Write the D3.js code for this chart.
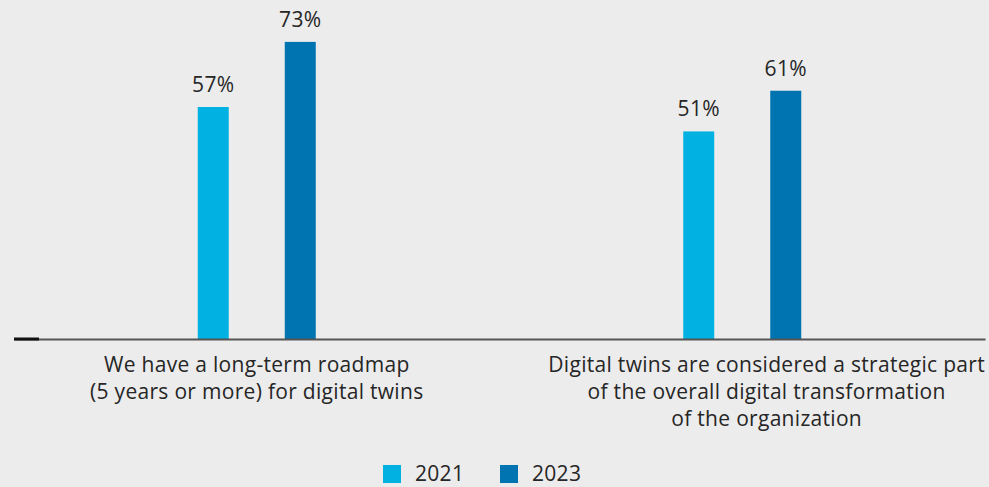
<!DOCTYPE html>
<html><head><meta charset="utf-8">
<script src="https://cdn.jsdelivr.net/npm/d3@7/dist/d3.min.js"></script>
<style>
html,body{margin:0;padding:0;background:#ececec;}
svg{display:block;font-family:"Open Sans","Noto Sans",sans-serif;}
text{letter-spacing:0.3px;}
</style></head>
<body>
<svg id="chart" width="989" height="487"></svg>
<script>
const categories = ["roadmap", "strategic"];
const categoryLabels = [
  ["We have a long-term roadmap", "(5 years or more) for digital twins"],
  ["Digital twins are considered a strategic part", "of the overall digital transformation", "of the organization"]
];
const seriesNames = ["2021", "2023"];
const values2021 = [57, 51];
const values2023 = [73, 61];
const colors = ["#00b1e1", "#0073b1"];

const svg = d3.select("#chart");
const x0 = 14, x1 = 985, yBase = 339;
const fs = 21, txtColor = "#262626";

const x = d3.scaleBand().domain(categories).range([x0, x1]).paddingInner(0).paddingOuter(0);
const xs = d3.scaleBand().domain(seriesNames).range([0, x.bandwidth()]).paddingInner(0.644).paddingOuter(2.112);
const y = d3.scaleLinear().domain([0, 80]).range([yBase, yBase - 80 * 4.07]);

const data = categories.map((c, i) => ({c, i, vals: [values2021[i], values2023[i]]}));

const g = svg.selectAll("g.grp").data(data).join("g").attr("class", "grp")
  .attr("transform", d => `translate(${x(d.c)},0)`);

g.selectAll("rect").data(d => d.vals.map((v, k) => ({v, s: seriesNames[k], k})))
  .join("rect")
  .attr("x", d => xs(d.s)).attr("width", xs.bandwidth())
  .attr("y", d => y(d.v)).attr("height", d => y(0) - y(d.v))
  .attr("fill", d => colors[d.k]);

g.selectAll("text.val").data(d => d.vals.map((v, k) => ({v, s: seriesNames[k], k})))
  .join("text").attr("class", "val")
  .attr("x", d => xs(d.s) + xs.bandwidth() / 2)
  .attr("y", d => y(d.v) - 15)
  .attr("text-anchor", "middle")
  .attr("font-size", fs).attr("fill", txtColor)
  .text(d => d.v + "%");

// axis
const axis = d3.axisBottom(x).tickSize(0).tickFormat("");
const ax = svg.append("g").attr("transform", `translate(0,${yBase})`).call(axis);
ax.select(".domain").attr("stroke", "#555").attr("stroke-width", 2);
svg.append("line").attr("x1", x0).attr("x2", x0 + 25).attr("y1", yBase).attr("y2", yBase)
  .attr("stroke", "#111").attr("stroke-width", 3);

// category labels
data.forEach((d, i) => {
  const t = svg.append("text").attr("text-anchor", "middle").attr("font-size", fs).attr("fill", txtColor);
  categoryLabels[i].forEach((line, j) => {
    t.append("tspan").attr("x", 0).attr("y", yBase + 33 + j * 27).text(line);
  });
  let cx = x(d.c) + x.bandwidth() / 2;
  if (i === categories.length - 1) {
    const w = d3.max(t.selectAll("tspan").nodes(), n => n.getComputedTextLength());
    cx = x1 - w / 2;
  }
  t.attr("transform", `translate(${cx},0)`);
});

// legend
const legend = svg.append("g");
const lx = [383, 500];
seriesNames.forEach((s, k) => {
  legend.append("rect").attr("x", lx[k]).attr("y", 465).attr("width", 18).attr("height", 18).attr("fill", colors[k]);
  legend.append("text").attr("x", lx[k] + 32).attr("y", 481).attr("font-size", fs).attr("fill", txtColor).text(s);
});
</script>
</body></html>
